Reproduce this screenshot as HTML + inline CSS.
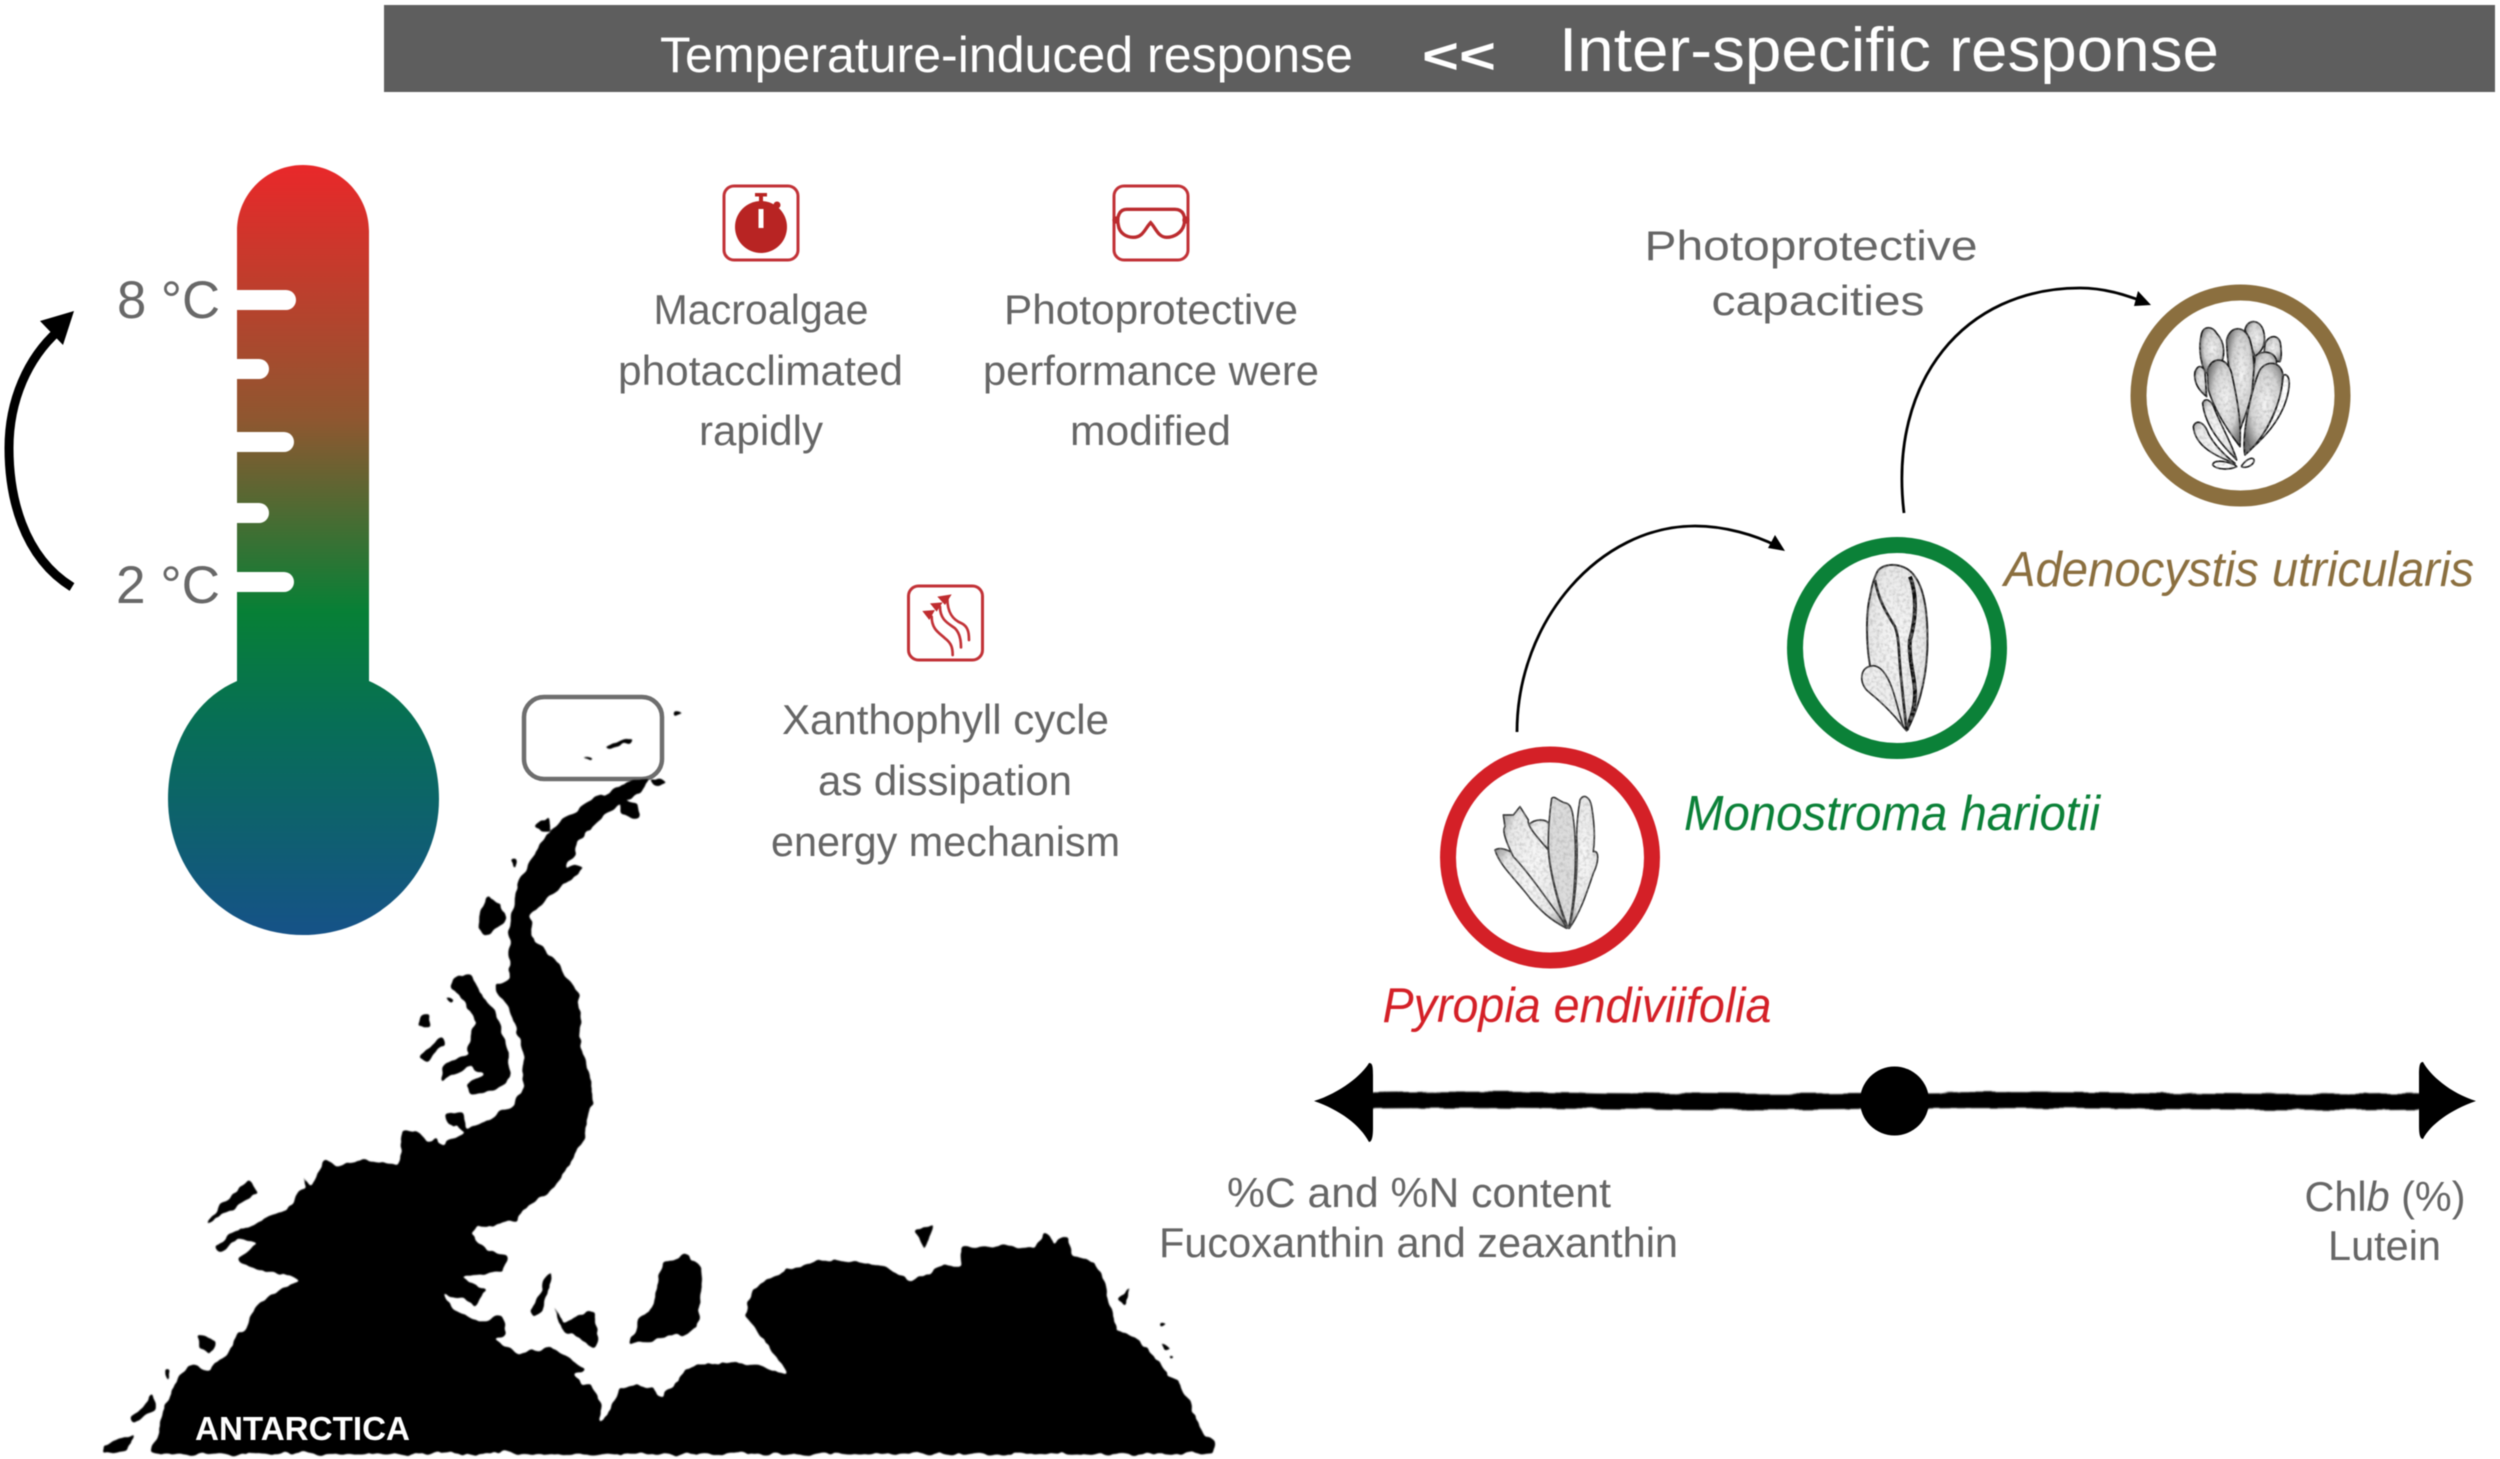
<!DOCTYPE html>
<html lang="en"><head><meta charset="utf-8"><title>Temperature-induced and inter-specific response</title>
<style>
html,body{margin:0;padding:0;background:#fff;width:2500px;height:1459px;overflow:hidden}
svg{display:block;filter:blur(.6px)}
text{font-family:"Liberation Sans",sans-serif}
.t{fill:#666;font-size:42px;text-anchor:middle}
.s{font-style:italic;font-size:49px;text-anchor:middle}
</style></head><body>
<svg width="2500" height="1459" viewBox="0 0 2500 1459" xmlns="http://www.w3.org/2000/svg">
<defs>
<linearGradient id="therm" gradientUnits="userSpaceOnUse" x1="0" y1="165" x2="0" y2="935">
<stop offset="0" stop-color="#e9282a"/><stop offset=".33" stop-color="#8f5730"/><stop offset=".58" stop-color="#078036"/><stop offset=".72" stop-color="#076f55"/><stop offset="1" stop-color="#165288"/>
</linearGradient>
<radialGradient id="blade" cx=".55" cy=".45" r=".62">
<stop offset="0" stop-color="#f4f4f4"/><stop offset=".6" stop-color="#d2d2d2"/><stop offset="1" stop-color="#666"/>
</radialGradient>
<radialGradient id="blade2" cx=".5" cy=".45" r=".65">
<stop offset="0" stop-color="#f8f8f8"/><stop offset=".7" stop-color="#e8e8e8"/><stop offset="1" stop-color="#9a9a9a"/>
</radialGradient>
<filter id="coast" filterUnits="userSpaceOnUse" x="0" y="650" width="1300" height="809">
<feTurbulence type="fractalNoise" baseFrequency=".07" numOctaves="3" seed="4" result="n"/>
<feDisplacementMap in="SourceGraphic" in2="n" scale="9" xChannelSelector="R" yChannelSelector="G" result="d"/>
<feGaussianBlur in="d" stdDeviation="1.300" result="b"/>
<feComponentTransfer in="b" result="c"><feFuncA type="linear" slope="5" intercept="-1.800"/></feComponentTransfer>
<feGaussianBlur in="c" stdDeviation=".4"/>
</filter>
<filter id="rough" filterUnits="userSpaceOnUse" x="1280" y="1040" width="1220" height="120">
<feTurbulence type="fractalNoise" baseFrequency=".035 .12" numOctaves="2" seed="7" result="n"/>
<feDisplacementMap in="SourceGraphic" in2="n" scale="5" xChannelSelector="R" yChannelSelector="G"/>
<feGaussianBlur stdDeviation=".7"/>
</filter>
<filter id="grain" x="-5%" y="-5%" width="110%" height="110%">
<feTurbulence type="fractalNoise" baseFrequency=".3" numOctaves="2" seed="3" result="n"/>
<feColorMatrix in="n" type="matrix" values="0 0 0 0 .3  0 0 0 0 .3  0 0 0 0 .3  1.100 0 0 0 -.45" result="d"/>
<feComposite in="d" in2="SourceAlpha" operator="in" result="s"/>
<feMerge><feMergeNode in="SourceGraphic"/><feMergeNode in="s"/></feMerge>
</filter>
</defs>

<!-- header -->
<rect x="384" y="5" width="2111" height="87" fill="#5e5e5e"/>
<text x="660" y="72" font-size="50" fill="#fff" textLength="693" lengthAdjust="spacingAndGlyphs">Temperature-induced response</text>
<text x="1422" y="73" font-size="50" font-weight="bold" fill="#fff" textLength="74" lengthAdjust="spacingAndGlyphs">&lt;&lt;</text>
<text x="1559" y="71" font-size="62" fill="#fff" textLength="660" lengthAdjust="spacingAndGlyphs">Inter-specific response</text>

<!-- thermometer -->
<path fill="url(#therm)" d="M237 681V231C237 195 266 165 303 165C340 165 369 195 369 231V681C413 700 439 747 439 799C439 874 378 935 303 935C228 935 168 874 168 799C168 747 193 700 237 681Z"/>
<g fill="#fff">
<path d="M237 290H286a10 10 0 0 1 0 20H237Z"/>
<path d="M237 359H259a10 10 0 0 1 0 20H237Z"/>
<path d="M237 432H284a10 10 0 0 1 0 20H237Z"/>
<path d="M237 503H259a10 10 0 0 1 0 20H237Z"/>
<path d="M237 572H284a10 10 0 0 1 0 20H237Z"/>
</g>
<text x="117" y="318" font-size="53" fill="#686868" textLength="103" lengthAdjust="spacingAndGlyphs">8 °C</text>
<text x="116" y="603" font-size="53" fill="#686868" textLength="104" lengthAdjust="spacingAndGlyphs">2 °C</text>
<path d="M72 587C22 556 9 495 9 448C9 400 28 358 58 331" fill="none" stroke="#000" stroke-width="9"/>
<polygon points="74,311 40,321 63,345" fill="#000"/>

<!-- icons -->
<g fill="none" stroke="#c23237" stroke-width="3">
<rect x="724" y="186" width="74" height="74" rx="10"/>
<rect x="1114" y="186" width="74" height="74" rx="10"/>
<rect x="908.500" y="586" width="74" height="74" rx="10"/>
</g>
<circle cx="761" cy="227" r="26" fill="#b82423"/>
<rect x="759" y="195" width="4" height="9" fill="#b82423"/><rect x="755" y="193" width="12" height="3.500" fill="#b82423"/>
<circle cx="777" cy="205" r="3.500" fill="#b82423"/>
<rect x="758.500" y="209" width="5" height="19" fill="#fff"/>
<g transform="translate(700 170) scale(.3333)">
<path d="M1280 118H1425C1450 118 1458 140 1452 165C1445 190 1420 202 1400 202C1375 202 1368 175 1352 158C1335 175 1330 202 1300 202C1280 202 1258 190 1255 165C1250 140 1258 118 1280 118Z" fill="none" stroke="#bb2b2e" stroke-width="10"/>
<circle cx="1248" cy="150" r="11" fill="#bb2b2e"/><circle cx="1458" cy="150" r="11" fill="#bb2b2e"/>
</g>
<g transform="translate(890 570) scale(.3333)">
<g fill="none" stroke="#c23237" stroke-width="8" stroke-linecap="round">
<path d="M125 140C125 180 150 190 165 205C185 220 188 235 188 255"/>
<path d="M150 110C150 150 175 160 195 175C210 190 213 215 213 232"/>
<path d="M172 85C172 130 190 150 215 160C235 170 237 190 237 210"/>
</g>
<g fill="#bf2c2f"><polygon points="97,123 135,120 118,150"/><polygon points="120,100 158,97 140,125"/><polygon points="142,80 185,73 165,105"/></g>
</g>

<!-- middle text -->
<text class="t" x="761" y="324" textLength="215" lengthAdjust="spacingAndGlyphs">Macroalgae</text>
<text class="t" x="760.500" y="385" textLength="285" lengthAdjust="spacingAndGlyphs">photacclimated</text>
<text class="t" x="761" y="445" textLength="124" lengthAdjust="spacingAndGlyphs">rapidly</text>
<text class="t" x="1151" y="324" textLength="294" lengthAdjust="spacingAndGlyphs">Photoprotective</text>
<text class="t" x="1151" y="385" textLength="336" lengthAdjust="spacingAndGlyphs">performance were</text>
<text class="t" x="1150.500" y="445" textLength="161" lengthAdjust="spacingAndGlyphs">modified</text>
<text class="t" x="945.500" y="734" textLength="327" lengthAdjust="spacingAndGlyphs">Xanthophyll cycle</text>
<text class="t" x="945" y="795" textLength="254" lengthAdjust="spacingAndGlyphs">as dissipation</text>
<text class="t" x="945.500" y="856" textLength="349" lengthAdjust="spacingAndGlyphs">energy mechanism</text>

<!-- map -->
<rect x="524" y="697" width="138" height="82" rx="20" fill="none" stroke="#6e6e6e" stroke-width="4.500"/>
<g filter="url(#coast)">
<g transform="translate(0 650) scale(.797 .516)" fill="#000">
<path d="M190 1558L205 1490L212 1450L225 1410L240 1385L262 1395L285 1360L310 1310L325 1265L345 1250L375 1220L340 1205L310 1195L297 1180L325 1150L300 1140L275 1170L268 1160L290 1130L330 1105L360 1085L375 1050L390 1040L400 1010L410 988L420 1000L450 990L500 995L505 970L503 935L520 935L535 955L550 945L555 960L590 925L640 885L655 860L658 790L645 720L622 650L640 640L640 590L640 520L652 450L674 380L696 345L738 295L790 255L815 248L805 272L782 295L752 325L722 372L722 398L708 425L735 420L715 448L695 468L680 492L664 515L668 560L690 590L700 610L720 650L730 700L725 750L735 800L745 860L735 920L730 960L710 1010L690 1050L660 1080L650 1105L600 1120L590 1135L610 1165L636 1170L630 1205L575 1215L610 1240L600 1270L555 1245L570 1280L600 1300L630 1290L635 1325L620 1335L650 1365L690 1350L735 1395L720 1405L750 1445L755 1500L780 1430L820 1425L830 1450L860 1395L890 1385L930 1380L990 1405L960 1340L935 1290L945 1240L980 1205L1040 1180L1100 1190L1145 1225L1185 1190L1205 1195L1210 1160L1250 1155L1300 1160L1310 1125L1320 1150L1340 1140L1345 1175L1375 1185L1395 1270L1400 1320L1430 1340L1465 1400L1490 1445L1510 1525L1525 1535L1520 1558Z"/>
<path d="M570 635L590 625L600 660L625 710L640 790L640 830L620 855L590 860L585 840L610 825L590 810L550 835L560 800L590 780L590 740L600 720L580 680L568 650Z"/>
<path d="M830 1190L860 1170L880 1195L880 1240L875 1310L860 1325L790 1345L800 1300L820 1270Z"/>
<path d="M665 1280L690 1200L690 1230L680 1280L672 1290Z"/>
<path d="M690 1260L710 1300L745 1280L752 1340L745 1350L710 1320Z"/>
<path d="M525 710L540 705L540 730L525 730Z"/><path d="M525 790L555 750L560 765L535 795Z"/>
<path d="M560 900L580 895L585 930L565 920Z"/>
<path d="M258 1112L290 1060L310 1030L325 1050L290 1085Z"/>
<path d="M130 1558L130 1540L170 1520L160 1550Z"/><path d="M165 1490L190 1440L195 1470L170 1500Z"/>
<path d="M205 1395L212 1395L210 1415Z"/>
<path d="M250 1330L270 1340L265 1365L250 1350Z"/>
<path d="M600 540L610 480L630 490L632 530L610 550Z"/>
<path d="M670 340L690 320L692 350L680 352Z"/><path d="M780 290L800 300L802 325L780 315Z"/>
<path d="M640 405L648 402L645 425Z"/><path d="M560 670L572 680L565 686Z"/>
<path d="M815 250L840 255L825 265Z"/>
<path d="M725 205L745 210L740 215Z"/><path d="M755 190L795 168L790 180L765 195Z"/>
<path d="M845 118L858 122L848 127Z"/>
<path d="M1150 1125L1172 1115L1160 1160L1150 1130Z"/>
<path d="M1400 1260L1420 1235L1410 1270Z"/>
<path d="M378 1005L390 1040L385 1045Z"/><path d="M1455 1300L1465 1305L1458 1312Z"/><path d="M1455 1345L1468 1350L1460 1356Z"/><path d="M1465 1365L1475 1370L1470 1378Z"/>
</g>
</g>
<text x="195" y="1440" font-size="33" font-weight="bold" fill="#fff" textLength="215" lengthAdjust="spacingAndGlyphs">ANTARCTICA</text>

<!-- circles -->
<ellipse cx="2240.500" cy="395.500" rx="102" ry="103" fill="#fff" stroke="#8b6f3f" stroke-width="16"/>
<ellipse cx="1897" cy="648" rx="102" ry="103" fill="#fff" stroke="#0b8138" stroke-width="16"/>
<ellipse cx="1550" cy="857.500" rx="102" ry="103" fill="#fff" stroke="#d42027" stroke-width="16"/>

<!-- Adenocystis -->
<g filter="url(#grain)">
<g transform="translate(2120 300) scale(.3333)" fill="url(#blade)" stroke="#1c1c1c" stroke-width="5" stroke-linejoin="round">
<path d="M435 130C450 100 480 105 482 135C485 160 485 175 480 185L430 180Z"/>
<path d="M375 90C380 55 425 55 432 100C438 130 430 150 405 170Z"/>
<path d="M245 100C250 80 275 75 290 100C318 130 315 170 300 200L255 220C240 180 235 140 245 100Z"/>
<path d="M320 120C330 75 375 75 390 120C405 170 405 230 395 280C385 330 370 360 360 390C345 300 320 200 320 120Z"/>
<path d="M405 170C420 150 465 150 470 185L440 300L395 290Z"/>
<path d="M225 215C235 190 250 200 255 215L260 290C235 270 220 245 225 215Z"/>
<path d="M490 225C505 220 512 240 505 275C495 330 460 390 390 450C440 400 480 330 490 225Z" fill="#fff"/>
<path d="M262 215C270 170 320 165 335 220C350 290 365 360 360 440C345 420 290 350 265 270Z"/>
<path d="M415 220C430 180 480 180 488 220C490 300 440 410 375 465C365 420 385 300 415 220Z"/>
<path d="M248 310C255 290 275 300 285 330C300 370 340 440 350 480C310 440 255 380 248 310Z" fill="url(#blade2)"/>
<path d="M220 380C225 360 250 360 265 400C285 440 320 470 345 490C290 470 225 440 220 380Z" fill="url(#blade2)"/>
<path d="M345 495C310 480 280 480 278 495C290 510 330 510 350 500Z" fill="#fff"/>
<path d="M365 497C385 470 405 470 402 485C395 500 375 505 365 500Z" fill="#fff"/>
</g>
</g>

<!-- Monostroma -->
<g filter="url(#grain)">
<g transform="translate(1800 550) scale(.3333)" stroke-linejoin="round" fill="none">
<path d="M235 60C260 35 320 40 345 80C375 120 385 200 382 300C378 400 350 490 320 542C290 510 240 440 215 370C200 310 195 200 210 140C215 110 222 80 235 60Z" fill="url(#blade2)" stroke="#2a2a2a" stroke-width="6"/>
<path d="M225 90C235 150 260 190 285 230C300 270 295 320 305 400C310 450 315 500 320 540" stroke="#222" stroke-width="8"/>
<path d="M330 80C350 130 350 200 330 270C325 330 345 380 345 430C345 470 335 500 320 540" stroke="#111" stroke-width="12"/>
<path d="M215 348C180 350 175 400 205 425C230 445 270 480 310 530C290 470 280 400 250 365C240 352 225 345 215 348Z" fill="#eee" stroke="#2a2a2a" stroke-width="5"/>
</g>
</g>

<!-- Pyropia -->
<g filter="url(#grain)">
<g transform="translate(1450 770) scale(.3333)" fill="url(#blade2)" stroke="#3a3a3a" stroke-width="5" stroke-linejoin="round">
<path d="M135 240C150 230 175 240 190 250C230 290 300 380 350 475C300 450 270 420 240 385C200 330 150 290 135 240Z"/>
<path d="M235 165C255 145 290 145 300 165L298 240C270 215 240 190 235 165Z"/>
<path d="M160 135L190 135L210 110L235 150C230 170 270 210 295 240C300 320 330 420 352 472C300 400 230 300 190 260C170 220 155 180 165 170Z"/>
<path d="M390 90C400 70 420 80 425 110C435 170 435 210 430 245C450 240 445 280 430 310C410 370 390 430 358 475C375 400 385 300 380 200C380 160 385 120 390 90Z"/>
<path d="M305 85C315 75 325 95 350 100C365 105 370 125 375 200C380 300 370 420 355 475C325 400 295 290 295 220C295 170 300 120 305 85Z" fill="#dcdcdc"/>
</g>
</g>

<!-- curved arrows -->
<g fill="none" stroke="#000" stroke-width="2.800">
<path d="M1517 732C1517 620 1600 526 1695 526C1725 526 1755 535 1777 546"/>
<path d="M1904 513C1888 380 1965 288 2080 288C2105 288 2125 295 2142 301"/>
</g>
<polygon points="1785,551 1768,548 1775,535" fill="#000"/>
<polygon points="2151,305 2134,306 2138,291" fill="#000"/>

<!-- species labels -->
<text class="s" x="2239" y="586" fill="#8b6f3f" textLength="470" lengthAdjust="spacingAndGlyphs">Adenocystis utricularis</text>
<text class="s" x="1892" y="830" fill="#0b8138" textLength="416" lengthAdjust="spacingAndGlyphs">Monostroma hariotii</text>
<text class="s" x="1577" y="1022" fill="#d42027" textLength="389" lengthAdjust="spacingAndGlyphs">Pyropia endiviifolia</text>

<text class="t" x="1811" y="260" textLength="333" lengthAdjust="spacingAndGlyphs">Photoprotective</text>
<text class="t" x="1818" y="315" textLength="213" lengthAdjust="spacingAndGlyphs">capacities</text>

<!-- axis -->
<g filter="url(#rough)">
<path d="M1350 1093C1500 1089 1700 1096 1894 1093C2060 1090 2250 1096 2440 1093V1109C2250 1112 2060 1106 1894 1109C1700 1112 1500 1106 1350 1109Z" fill="#000"/>
</g>
<path d="M1314 1101C1340 1093 1362 1075 1369 1063C1372 1063 1373 1065 1373 1075V1128C1373 1136 1372 1142 1369 1142C1360 1125 1340 1110 1314 1101Z" fill="#000"/>
<path d="M2476 1101C2450 1093 2430 1075 2423 1062C2420 1062 2419 1065 2419 1075V1126C2419 1134 2420 1139 2423 1139C2430 1125 2450 1110 2476 1101Z" fill="#000"/>
<circle cx="1894.500" cy="1101" r="34.500" fill="#000"/>

<text class="t" x="1419" y="1207" textLength="384" lengthAdjust="spacingAndGlyphs">%C and %N content</text>
<text class="t" x="1418.500" y="1257" textLength="519" lengthAdjust="spacingAndGlyphs">Fucoxanthin and zeaxanthin</text>
<text class="t" x="2385" y="1211" textLength="161" lengthAdjust="spacingAndGlyphs">Chl<tspan font-style="italic">b</tspan> (%)</text>
<text class="t" x="2384.500" y="1260" textLength="113" lengthAdjust="spacingAndGlyphs">Lutein</text>
</svg>
</body></html>
